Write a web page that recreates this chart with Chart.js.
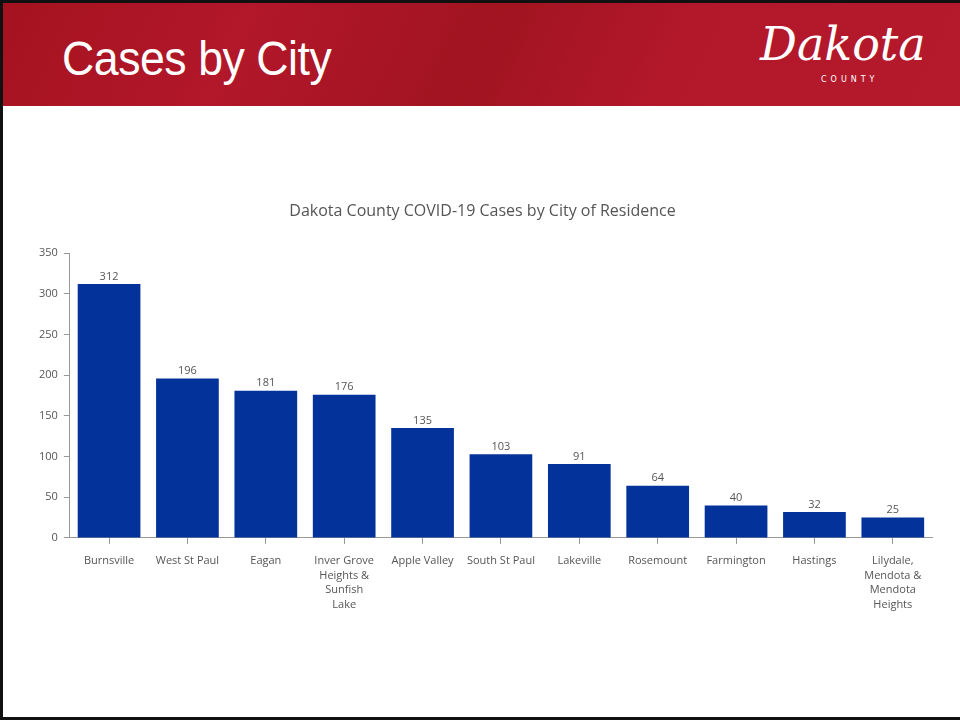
<!DOCTYPE html>
<html>
<head>
<meta charset="utf-8">
<script src="https://cdn.jsdelivr.net/npm/chart.js@4"></script>
<style>
  body { margin: 0; background: #fff; }
  #slide {
    position: relative; width: 960px; height: 721px; overflow: hidden;
    background: #fff;
  }
  #frame {
    position: absolute; left: 0; top: 0; width: 960px; height: 720px;
    border-left: 3px solid #111; border-top: 3px solid #111; border-bottom: 3px solid #111;
    box-sizing: border-box;
  }
  #header {
    position: absolute; left: 3px; top: 3px; width: 957px; height: 103px;
    background: linear-gradient(115deg, #a5131f 0%, #b2172a 25%, #a11420 50%, #b3182a 70%, #b5192c 100%);
  }
  #title {
    position: absolute; left: 59px; top: 28px; color: #fff;
    font-family: "Liberation Sans", Arial, sans-serif;
    font-size: 48px; letter-spacing: -0.5px;
    transform: scaleX(0.93); transform-origin: left top;
  }
  #logo {
    position: absolute; left: 757px; top: 14px; color: #fff;
    font-family: "DejaVu Serif", serif; font-style: italic; font-size: 46px;
  }
  #county {
    position: absolute; left: 818px; top: 72px; color: #fff;
    font-family: "DejaVu Sans", sans-serif; font-size: 8px; letter-spacing: 4px;
  }
  #wrap { position: absolute; left: 0; top: 190px; width: 960px; height: 441px; }
</style>
</head>
<body>
<div id="slide">
  <div id="header">
    <div id="title">Cases by City</div>
    <div id="logo">Dakota</div>
    <div id="county">COUNTY</div>
  </div>
  <div id="frame"></div>
  <div id="wrap"><canvas id="myChart"></canvas></div>
</div>
<script>
const cities = [
  "Burnsville",
  "West St Paul",
  "Eagan",
  ["Inver Grove", "Heights &", "Sunfish", "Lake"],
  "Apple Valley",
  "South St Paul",
  "Lakeville",
  "Rosemount",
  "Farmington",
  "Hastings",
  ["Lilydale,", "Mendota &", "Mendota", "Heights"]
];
const cases = [312, 196, 181, 176, 135, 103, 91, 64, 40, 32, 25];
const yTicks = [0, 50, 100, 150, 200, 250, 300, 350];

const textGray = "#555";
const fontName = "'Open Sans', sans-serif";

// draw value labels above each bar
const valueLabels = {
  id: "valueLabels",
  afterDatasetsDraw(chart) {
    const ctx = chart.ctx;
    const meta = chart.getDatasetMeta(0);
    ctx.save();
    ctx.fillStyle = textGray;
    ctx.font = "11px " + fontName;
    ctx.textAlign = "center";
    ctx.textBaseline = "bottom";
    meta.data.forEach((bar, i) => {
      ctx.fillText(cases[i], bar.x, bar.y - 2);
    });
    ctx.restore();
  }
};

const ctx = document.getElementById("myChart");

const myChart = new Chart(ctx, {
  type: "bar",
  data: {
    labels: cities,
    datasets: [
      {
        label: "Cases",
        data: cases,
        backgroundColor: "#03329a",
        barPercentage: 0.8,
        categoryPercentage: 1.0,
      },
    ],
  },
  options: {
    responsive: true,
    maintainAspectRatio: false,
    animation: false,
    layout: { padding: { left: 33, right: 28, top: 0, bottom: 9 } },
    plugins: {
      legend: { display: false },
      tooltip: { enabled: false },
      title: {
        display: true,
        text: "Dakota County COVID-19 Cases by City of Residence",
        color: textGray,
        font: { family: fontName, size: 16, weight: "normal" },
        padding: { top: 12, bottom: 32 },
      },
    },
    scales: {
      x: {
        grid: { drawOnChartArea: false, offset: false, color: "#999", tickLength: 6 },
        border: { color: "#999" },
        ticks: {
          color: textGray,
          font: { family: fontName, size: 11, lineHeight: 1.32 },
          padding: 10,
          maxRotation: 0,
          autoSkip: false,
        },
      },
      y: {
        min: 0,
        max: 350,
        afterBuildTicks(axis) {
          axis.ticks = yTicks.map(v => ({ value: v }));
        },
        grid: { drawOnChartArea: false, color: "#999", tickLength: 6 },
        border: { color: "#999" },
        ticks: {
          color: textGray,
          font: { family: fontName, size: 11 },
          padding: 6,
        },
      },
    },
  },
  plugins: [valueLabels],
});
</script>
</body>
</html>
